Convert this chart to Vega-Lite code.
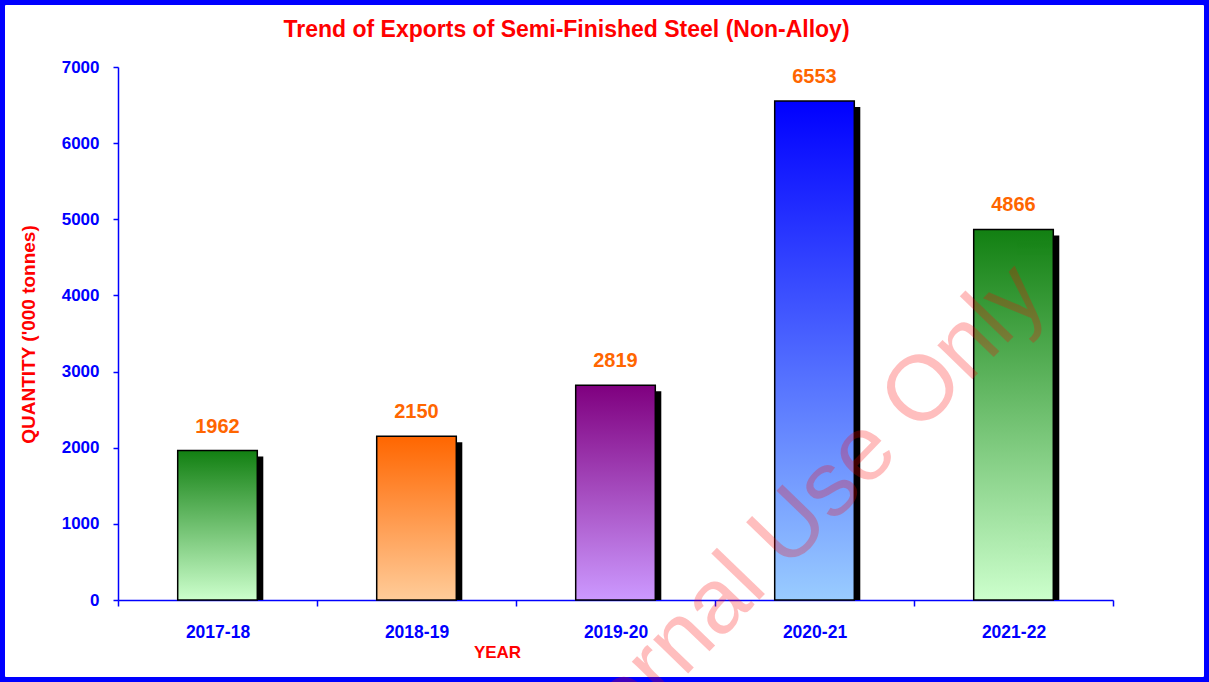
{
  "$schema": "https://vega.github.io/schema/vega-lite/v6.json",
  "width": 1209,
  "height": 682,
  "autosize": {"type": "fit", "contains": "padding"},
  "padding": 0,
  "background": "white",
  "config": {
    "view": {"stroke": "#0000ff", "strokeWidth": 10, "cornerRadius": 6},
    "font": "Liberation Sans"
  },
  "title": {
    "text": "Trend of Exports of Semi-Finished Steel (Non-Alloy)",
    "color": "#ff0000",
    "font": "Liberation Sans",
    "fontSize": 23,
    "fontWeight": "bold",
    "anchor": "middle",
    "frame": "group",
    "offset": -42,
    "dx": -38
  },
  "data": {
    "values": [
      {"year": "2017-18", "qty": 1962},
      {"year": "2018-19", "qty": 2150},
      {"year": "2019-20", "qty": 2819},
      {"year": "2020-21", "qty": 6553},
      {"year": "2021-22", "qty": 4866}
    ]
  },
  "layer": [
    {
      "mark": {"type": "bar", "fill": "#000000", "xOffset": 6, "yOffset": 6, "width": {"band": 0.4}},
      "encoding": {
        "x": {
          "field": "year", "type": "nominal", "sort": null,
          "scale": {"range": [118, 1113], "paddingInner": 0, "paddingOuter": 0},
          "axis": {
            "title": "YEAR",
            "offset": -82,
            "tickBand": "extent",
            "labelAngle": 0,
            "domainColor": "#0000ff",
            "domainWidth": 1.5,
            "tickColor": "#0000ff",
            "tickWidth": 1.5,
            "tickSize": 6,
            "labelColor": "#0000ff",
            "labelFont": "Liberation Sans",
            "labelFontSize": 17.5,
            "labelFontWeight": "bold",
            "labelPadding": 17,
            "titleColor": "#ff0000",
            "titleFont": "Liberation Sans",
            "titleFontSize": 17,
            "titleFontWeight": "bold",
            "titleX": 497,
            "titleY": 52,
            "titleAlign": "center",
            "titleBaseline": "middle"
          }
        },
        "y": {
          "field": "qty", "type": "quantitative",
          "scale": {"domain": [0, 7000], "range": [600, 67], "nice": false},
          "axis": {
            "title": "QUANTITY ('000 tonnes)",
            "values": [0, 1000, 2000, 3000, 4000, 5000, 6000, 7000],
            "format": "d",
            "offset": -118,
            "grid": false,
            "domainColor": "#0000ff",
            "domainWidth": 1.5,
            "tickColor": "#0000ff",
            "tickWidth": 1.5,
            "tickSize": 5,
            "labelColor": "#0000ff",
            "labelFont": "Liberation Sans",
            "labelFontSize": 17,
            "labelFontWeight": "bold",
            "labelPadding": 14,
            "titleColor": "#ff0000",
            "titleFont": "Liberation Sans",
            "titleFontSize": 19,
            "titleFontWeight": "bold",
            "titleAngle": -90,
            "titleX": -90,
            "titleY": 334,
            "titleAlign": "center",
            "titleBaseline": "middle"
          }
        },
        "y2": {"datum": 0}
      }
    },
    {
      "mark": {"type": "bar", "stroke": "#000000", "strokeWidth": 1.5, "width": {"band": 0.4}},
      "encoding": {
        "x": {"field": "year", "type": "nominal", "sort": null},
        "y": {"field": "qty", "type": "quantitative"},
        "y2": {"datum": 0},
        "fill": {
          "condition": [
            {"test": "datum.year === '2018-19'", "value": {"gradient": "linear", "x1": 0, "y1": 0, "x2": 0, "y2": 1, "stops": [{"offset": 0, "color": "#ff6600"}, {"offset": 1, "color": "#ffcc99"}]}},
            {"test": "datum.year === '2019-20'", "value": {"gradient": "linear", "x1": 0, "y1": 0, "x2": 0, "y2": 1, "stops": [{"offset": 0, "color": "#7f007f"}, {"offset": 1, "color": "#cc99ff"}]}},
            {"test": "datum.year === '2020-21'", "value": {"gradient": "linear", "x1": 0, "y1": 0, "x2": 0, "y2": 1, "stops": [{"offset": 0, "color": "#0000ff"}, {"offset": 1, "color": "#99ccff"}]}}
          ],
          "value": {"gradient": "linear", "x1": 0, "y1": 0, "x2": 0, "y2": 1, "stops": [{"offset": 0, "color": "#128012"}, {"offset": 1, "color": "#ccffcc"}]}
        }
      }
    },
    {
      "mark": {"type": "text", "dy": -18, "baseline": "alphabetic", "align": "center", "font": "Liberation Sans", "fontSize": 20, "fontWeight": "bold", "fill": "#ff6600"},
      "encoding": {
        "x": {"field": "year", "type": "nominal", "sort": null},
        "y": {"field": "qty", "type": "quantitative"},
        "text": {"field": "qty", "type": "quantitative", "format": "d"}
      }
    },
    {
      "data": {"values": [{"mark": "Internal Use Only"}]},
      "mark": {"type": "text", "clip": true, "angle": -46, "align": "center", "baseline": "middle", "font": "Liberation Sans", "fontSize": 92, "fill": "#ff0000", "opacity": 0.25},
      "encoding": {
        "x": {"datum": "2020-21", "bandPosition": 0.34},
        "y": {"datum": 850},
        "text": {"field": "mark", "type": "nominal"}
      }
    }
  ]
}
